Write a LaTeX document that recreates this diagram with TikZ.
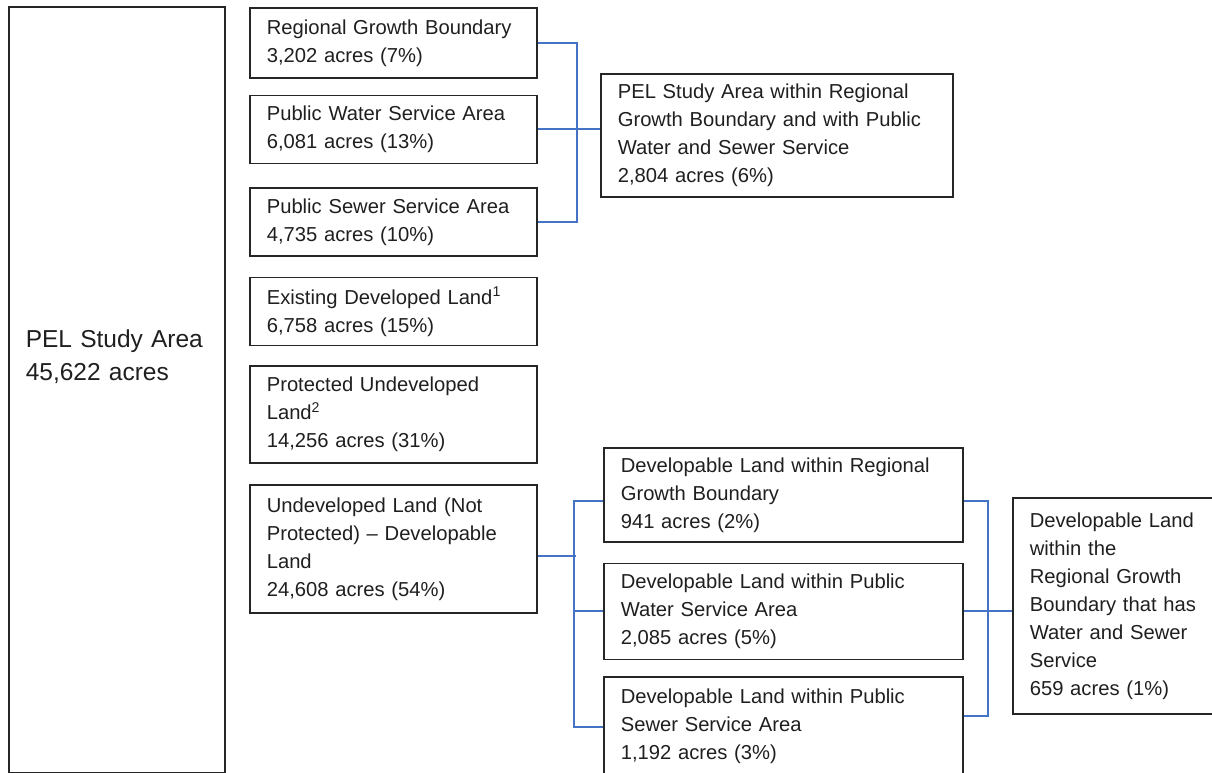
\documentclass[tikz,border=0pt]{standalone}
\usepackage{fontspec}
\setmainfont{Liberation Sans}
\usepackage{tikz}
\usetikzlibrary{positioning}
\definecolor{linkblue}{RGB}{68,114,196}

\begin{document}
\begin{tikzpicture}[x=1pt, y=-1pt, font=\fontsize{20.2}{28}\selectfont,
  box/.style={draw=black!85, line width=1.6pt, align=left, inner xsep=17pt, inner ysep=0pt, text=black!88},
  lbox/.style={box, text width=253pt},
  dbox/.style={box, text width=325pt},
  link/.style={draw=linkblue, line width=2pt}]
\useasboundingbox (0,0) rectangle (1212,773);
\node[box, anchor=north west, text width=182pt, minimum height=766pt, font=\fontsize{24.5}{33}\selectfont] (pel) at (8,6) {PEL Study Area\\45,622 acres\\[36pt]\mbox{}};
\node[lbox, anchor=north west, minimum height=70pt] (rgb) at (249,7) {Regional Growth Boundary\\3,202 acres (7\%)};
\node[lbox, minimum height=68pt, below=16pt of rgb] (pwsa) {Public Water Service Area\\6,081 acres (13\%)};
\node[lbox, minimum height=68pt, below=23pt of pwsa] (pssa) {Public Sewer Service Area\\4,735 acres (10\%)};
\node[lbox, minimum height=68pt, below=20pt of pssa] (edl) {Existing Developed Land\textsuperscript{1}\\6,758 acres (15\%)};
\node[lbox, minimum height=97pt, below=19pt of edl] (pul) {Protected Undeveloped\\Land\textsuperscript{2}\\14,256 acres (31\%)};
\node[lbox, minimum height=128pt, below=20pt of pul] (udl) {Undeveloped Land (Not\\Protected) -- Developable\\Land\\24,608 acres (54\%)};
\node[box, anchor=north west, text width=318pt, minimum height=123pt] (pelrgb) at (600,73) {PEL Study Area within Regional\\Growth Boundary and with Public\\Water and Sewer Service\\2,804 acres (6\%)};
\node[dbox, anchor=north west, minimum height=94pt] (dlrgb) at (603,447) {Developable Land within Regional\\Growth Boundary\\941 acres (2\%)};
\node[dbox, minimum height=96pt, below=20pt of dlrgb] (dlpwsa) {Developable Land within Public\\Water Service Area\\2,085 acres (5\%)};
\node[dbox, minimum height=99pt, below=16pt of dlpwsa] (dlpssa) {Developable Land within Public\\Sewer Service Area\\1,192 acres (3\%)};
\node[box, anchor=north west, text width=178pt, minimum height=216pt] (final) at (1012,497) {Developable Land\\within the\\Regional Growth\\Boundary that has\\Water and Sewer\\Service\\659 acres (1\%)};
\draw[link] (rgb.east) -- ++(39,0) |- (pssa.east); \draw[link] (pwsa.east) -- (pwsa.east -| pelrgb.west);
\draw[link] ([yshift=-7pt]udl.east) -- ++(38,0);
\draw[link] ([yshift=-6pt]dlrgb.west) -- ++(-29,0) |- (dlpssa.west); \draw[link] (dlpwsa.west) -- ++(-29,0);
\draw[link] ([yshift=-6pt]dlrgb.east) -- ++(24,0) |- ([yshift=11pt]dlpssa.east); \draw[link] (dlpwsa.east) -- (dlpwsa.east -| final.west);
\end{tikzpicture}
\end{document}
